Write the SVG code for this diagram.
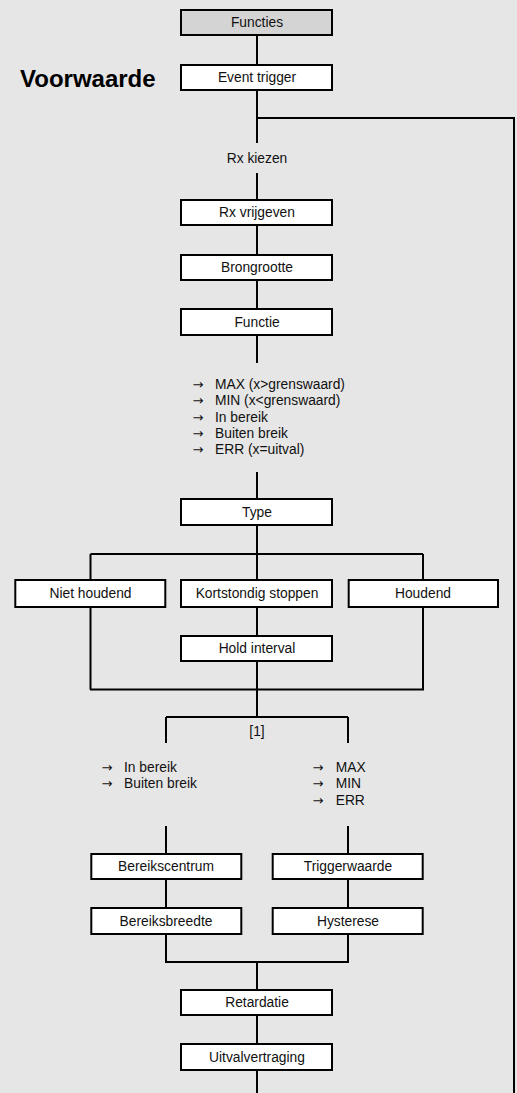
<svg xmlns="http://www.w3.org/2000/svg" width="517" height="1093" viewBox="0 0 517 1093">
<style>
.bg{fill:#e6e6e6}
.box{fill:#ffffff;stroke:#000;stroke-width:2}
.head{fill:#d4d4d4;stroke:#000;stroke-width:2}
.t{font-family:"Liberation Sans",Arial,sans-serif;font-size:13.8px;fill:#111}
.a{font-family:"DejaVu Sans",sans-serif;font-size:13px;fill:#111}
.c{text-anchor:middle}
.title{font-family:"Liberation Sans",Arial,sans-serif;font-size:24px;font-weight:bold;fill:#000}
.ln{stroke:#000;stroke-width:2;fill:none}
</style>
<rect class="bg" x="0" y="0" width="517" height="1093"/>
<g id="connectors">
<path class="ln" d="M257,36V65 M257,90V143 M257,118H514V1093 M257,173V200 M257,225V255 M257,280V309 M257,335V363"/>
<path class="ln" d="M257,472V499 M257,525V554 M90.5,554H423 M90.5,554V580 M257,554V580 M423,554V580"/>
<path class="ln" d="M90.5,607V689.5 M423,607V689.5 M257,607V636 M257,661V689.5 M90,689.5H424 M257,689.5V717 M166,717H348 M166,717V743 M348,717V743"/>
<path class="ln" d="M166,826V854 M348,826V854 M166,879V908 M348,879V908 M166,934V962 M348,934V962 M165,962H349 M257,962V990 M257,1015V1044 M257,1070V1093"/>
</g>
<text class="title" x="20" y="87">Voorwaarde</text>
<g id="functies"><rect class="head" x="181" y="10" width="151" height="25"/><text class="t c" x="257" y="27">Functies</text></g>
<g id="event-trigger"><rect class="box" x="181" y="65" width="151" height="25"/><text class="t c" x="257" y="82">Event trigger</text></g>
<g id="rx-kiezen"><text class="t c" x="257" y="163">Rx kiezen</text></g>
<g id="rx-vrijgeven"><rect class="box" x="181" y="200" width="151" height="25"/><text class="t c" x="257" y="217">Rx vrijgeven</text></g>
<g id="brongrootte"><rect class="box" x="181" y="255" width="151" height="25"/><text class="t c" x="257" y="272">Brongrootte</text></g>
<g id="functie"><rect class="box" x="181" y="309" width="151" height="26"/><text class="t c" x="257" y="327">Functie</text></g>
<g id="functie-lijst">
<text class="a" x="192.5" y="389">→</text><text class="t" x="215" y="389">MAX (x&gt;grenswaard)</text>
<text class="a" x="192.5" y="405.3">→</text><text class="t" x="215" y="405.3">MIN (x&lt;grenswaard)</text>
<text class="a" x="192.5" y="421.6">→</text><text class="t" x="215" y="421.6">In bereik</text>
<text class="a" x="192.5" y="437.9">→</text><text class="t" x="215" y="437.9">Buiten breik</text>
<text class="a" x="192.5" y="454.2">→</text><text class="t" x="215" y="454.2">ERR (x=uitval)</text>
</g>
<g id="type"><rect class="box" x="181" y="499" width="151" height="26"/><text class="t c" x="257" y="517">Type</text></g>
<g id="niet-houdend"><rect class="box" x="15.3" y="580" width="150" height="27"/><text class="t c" x="90.5" y="598">Niet houdend</text></g>
<g id="kortstondig-stoppen"><rect class="box" x="181" y="580" width="151" height="27"/><text class="t c" x="257" y="598">Kortstondig stoppen</text></g>
<g id="houdend"><rect class="box" x="348.7" y="580" width="149.3" height="27"/><text class="t c" x="423" y="598">Houdend</text></g>
<g id="hold-interval"><rect class="box" x="181" y="636" width="151" height="25"/><text class="t c" x="257" y="653">Hold interval</text></g>
<g id="label-1"><text class="t c" x="257" y="735.5">[1]</text></g>
<g id="lijst-links">
<text class="a" x="101.5" y="772">→</text><text class="t" x="124" y="772">In bereik</text>
<text class="a" x="101.5" y="788.3">→</text><text class="t" x="124" y="788.3">Buiten breik</text>
</g>
<g id="lijst-rechts">
<text class="a" x="312.5" y="772">→</text><text class="t" x="335.7" y="772">MAX</text>
<text class="a" x="312.5" y="788.3">→</text><text class="t" x="335.7" y="788.3">MIN</text>
<text class="a" x="312.5" y="804.6">→</text><text class="t" x="335.7" y="804.6">ERR</text>
</g>
<g id="bereikscentrum"><rect class="box" x="91.3" y="854" width="150" height="25"/><text class="t c" x="166" y="871">Bereikscentrum</text></g>
<g id="triggerwaarde"><rect class="box" x="272.7" y="854" width="150" height="25"/><text class="t c" x="348" y="871">Triggerwaarde</text></g>
<g id="bereiksbreedte"><rect class="box" x="91.3" y="908" width="150" height="26"/><text class="t c" x="166" y="926">Bereiksbreedte</text></g>
<g id="hysterese"><rect class="box" x="272.7" y="908" width="150" height="26"/><text class="t c" x="348" y="926">Hysterese</text></g>
<g id="retardatie"><rect class="box" x="181" y="990" width="151" height="25"/><text class="t c" x="257" y="1007">Retardatie</text></g>
<g id="uitvalvertraging"><rect class="box" x="181" y="1044" width="151" height="26"/><text class="t c" x="257" y="1062">Uitvalvertraging</text></g>
</svg>
